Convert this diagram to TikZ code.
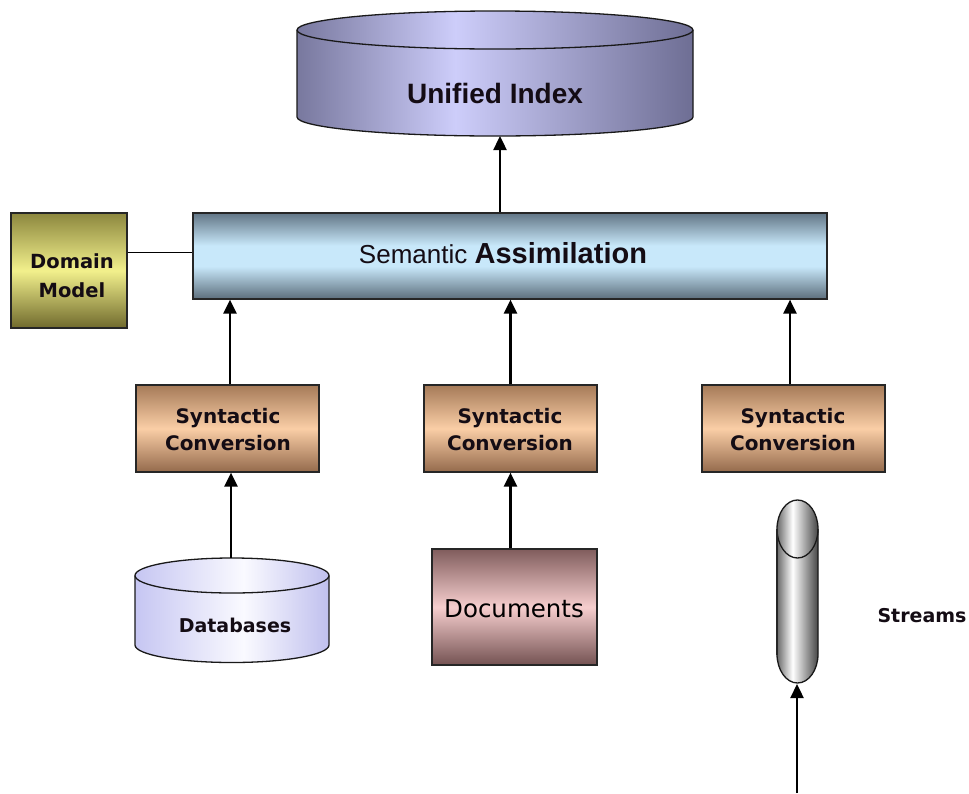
\documentclass[tikz,border=0pt]{standalone}
\usepackage{fontspec}
\usetikzlibrary{arrows.meta}
\newfontfamily\arialf{Liberation Sans}
\newfontfamily\dvsf{DejaVu Sans}
% colours
\definecolor{uiEdgeL}{RGB}{120,120,158}
\definecolor{uiMid}{RGB}{205,205,250}
\definecolor{uiEdgeR}{RGB}{110,110,148}
\definecolor{semDark}{RGB}{98,118,134}
\definecolor{semLight}{RGB}{200,232,250}
\definecolor{semDarkB}{RGB}{92,110,124}
\definecolor{dmTop}{RGB}{140,135,62}
\definecolor{dmMid}{RGB}{242,240,140}
\definecolor{dmBot}{RGB}{112,106,45}
\definecolor{synTop}{RGB}{165,122,88}
\definecolor{synMid}{RGB}{250,206,166}
\definecolor{synBot}{RGB}{148,106,76}
\definecolor{docTop}{RGB}{128,92,92}
\definecolor{docMid}{RGB}{246,206,206}
\definecolor{docBot}{RGB}{116,82,82}
\definecolor{dbL}{RGB}{198,198,242}
\definecolor{dbMid}{RGB}{250,250,255}
\definecolor{dbR}{RGB}{192,192,238}
\definecolor{stL}{RGB}{105,105,105}
\definecolor{stMid}{RGB}{255,255,255}
\definecolor{stR}{RGB}{70,70,70}
\definecolor{txt}{RGB}{20,12,20}
% shadings (TikZ maps 25bp..75bp onto the path)
\pgfdeclarehorizontalshading{uish}{100bp}{color(0bp)=(uiEdgeL); color(25bp)=(uiEdgeL); color(45bp)=(uiMid); color(75bp)=(uiEdgeR); color(100bp)=(uiEdgeR)}
\pgfdeclareverticalshading{semsh}{100bp}{color(0bp)=(semDarkB); color(25bp)=(semDarkB); color(44bp)=(semLight); color(56bp)=(semLight); color(75bp)=(semDark); color(100bp)=(semDark)}
\pgfdeclareverticalshading{dmsh}{100bp}{color(0bp)=(dmBot); color(25bp)=(dmBot); color(50bp)=(dmMid); color(75bp)=(dmTop); color(100bp)=(dmTop)}
\pgfdeclareverticalshading{synsh}{100bp}{color(0bp)=(synBot); color(25bp)=(synBot); color(50bp)=(synMid); color(75bp)=(synTop); color(100bp)=(synTop)}
\pgfdeclareverticalshading{docsh}{100bp}{color(0bp)=(docBot); color(25bp)=(docBot); color(50bp)=(docMid); color(75bp)=(docTop); color(100bp)=(docTop)}
\pgfdeclarehorizontalshading{dbsh}{100bp}{color(0bp)=(dbL); color(25bp)=(dbL); color(53bp)=(dbMid); color(75bp)=(dbR); color(100bp)=(dbR)}
\pgfdeclarehorizontalshading{stsh}{100bp}{color(0bp)=(stL); color(25bp)=(stL); color(44bp)=(stMid); color(75bp)=(stR); color(100bp)=(stR)}
\tikzset{
  boxshape/.style={rectangle, draw=black!85, line width=1.2pt, inner sep=0pt},
  outline/.style={draw=black!90, line width=1.3pt},
  arr/.style={line width=2.4pt, draw=black, -{Triangle[length=14pt,width=13pt]}},
  plain/.style={line width=1pt, draw=black},
  lbl/.style={text=txt, inner sep=0pt, anchor=base, align=center}
}
\begin{document}
\begin{tikzpicture}[x=1pt,y=-1pt]
\useasboundingbox[fill=white] (0,0) rectangle (969,793);

% ---------- Unified Index cylinder ----------
\shade[shading=uish] (297,30) -- (297,117) arc[start angle=180,end angle=0,x radius=198,y radius=19] -- (693,30) arc[start angle=0,end angle=-180,x radius=198,y radius=19] -- cycle;
\draw[outline] (297,30) -- (297,117) arc[start angle=180,end angle=0,x radius=198,y radius=19] -- (693,30) arc[start angle=0,end angle=-180,x radius=198,y radius=19] -- cycle;
\draw[outline] (297,30) arc[start angle=180,end angle=0,x radius=198,y radius=19];
\coordinate (uibot) at (500,136);
\node[lbl, font=\arialf\bfseries\fontsize{28}{32}\selectfont] (uitxt) at (495,103) {Unified Index};

% ---------- Semantic Assimilation ----------
\node[boxshape, shading=semsh, minimum width=634pt, minimum height=86pt] (sem) at (510,256) {};
\node[lbl] (semtxt) at (503,263) {\arialf\fontsize{26}{30}\selectfont Semantic \fontsize{29}{32}\selectfont\bfseries Assimilation};

% ---------- Domain Model ----------
\node[boxshape, shading=dmsh, minimum width=116pt, minimum height=115pt] (dm) at (69,270.5) {};
\node[lbl, font=\dvsf\bfseries\fontsize{19.5}{29}\selectfont] (dmtxt) at (72,297) {Domain\\Model};

% ---------- Syntactic Conversion boxes ----------
\node[boxshape, shading=synsh, minimum width=183pt, minimum height=87pt] (syn1) at (227.5,428.5) {};
\node[boxshape, shading=synsh, minimum width=173pt, minimum height=87pt] (syn2) at (510.5,428.5) {};
\node[boxshape, shading=synsh, minimum width=183pt, minimum height=87pt] (syn3) at (793.5,428.5) {};
\tikzset{syntxt/.style={lbl, font=\dvsf\bfseries\fontsize{20}{27}\selectfont}}
\node[syntxt] (syn1txt) at (228,450) {Syntactic\\Conversion};
\node[syntxt] (syn2txt) at (510,450) {Syntactic\\Conversion};
\node[syntxt] (syn3txt) at (793,450) {Syntactic\\Conversion};

% ---------- Databases cylinder ----------
\shade[shading=dbsh] (135,575.5) -- (135,645) arc[start angle=180,end angle=0,x radius=97,y radius=17.5] -- (329,575.5) arc[start angle=0,end angle=-180,x radius=97,y radius=17.5] -- cycle;
\draw[outline] (135,575.5) -- (135,645) arc[start angle=180,end angle=0,x radius=97,y radius=17.5] -- (329,575.5) arc[start angle=0,end angle=-180,x radius=97,y radius=17.5] -- cycle;
\draw[outline] (135,575.5) arc[start angle=180,end angle=0,x radius=97,y radius=17.5];
\coordinate (dbtop) at (231,558);
\node[lbl, font=\dvsf\bfseries\fontsize{19}{23}\selectfont] (dbtxt) at (235,632) {Databases};

% ---------- Documents ----------
\node[boxshape, shading=docsh, minimum width=165pt, minimum height=116pt] (doc) at (514.5,607) {};
\node[lbl, font=\dvsf\fontsize{24.5}{28}\selectfont, text=black] (doctxt) at (514,617) {Documents};

% ---------- Streams cylinder ----------
\shade[shading=stsh] (777,529) -- (777,654) arc[start angle=180,end angle=0,x radius=20.5,y radius=29] -- (818,529) arc[start angle=0,end angle=-180,x radius=20.5,y radius=29] -- cycle;
\draw[outline] (777,529) -- (777,654) arc[start angle=180,end angle=0,x radius=20.5,y radius=29] -- (818,529) arc[start angle=0,end angle=-180,x radius=20.5,y radius=29] -- cycle;
\draw[outline] (777,529) arc[start angle=180,end angle=0,x radius=20.5,y radius=29];
\draw[line width=2pt, draw=black!85] (776.5,529) -- (776.5,655);
\coordinate (stbot) at (797,684);
\coordinate (stin) at (797,793);
\node[lbl, font=\dvsf\bfseries\fontsize{19}{23}\selectfont] (sttxt) at (922,622) {Streams};

% ---------- connectors ----------
\draw[arr] (sem.north -| uibot) -- (uibot);
\draw[plain] (dm.east |- 0,252) -- (sem.west |- 0,252);
\draw[arr] ([xshift=2.5pt]syn1.north) -- ([xshift=2.5pt]syn1.north |- sem.south);
\draw[arr] (syn2.north) -- (syn2.north |- sem.south);
\draw[arr] ([xshift=-3.5pt]syn3.north) -- ([xshift=-3.5pt]syn3.north |- sem.south);
\draw[arr] (dbtop) -- (dbtop |- syn1.south);
\draw[arr] (doc.north -| syn2.north) -- (syn2.south);
\draw[arr] (stin) -- (stbot);
\end{tikzpicture}
\end{document}
